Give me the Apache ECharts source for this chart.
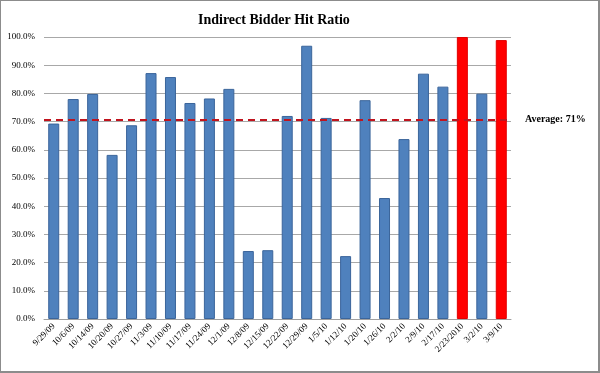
<!DOCTYPE html>
<html>
<head>
<meta charset="utf-8">
<script src="https://cdn.jsdelivr.net/npm/echarts@6/dist/echarts.min.js"></script>
<style>
html,body{margin:0;padding:0;background:#fff;}
#wrap{position:relative;width:600px;height:373px;box-sizing:border-box;border:1px solid #8c8c8c;border-right:2px solid #8c8c8c;border-bottom:2px solid #8c8c8c;}
#chart{position:absolute;left:-1px;top:-1px;width:600px;height:373px;}
</style>
</head>
<body>
<div id="wrap"><div id="chart"></div></div>
<script>
const categories = ['9/29/09','10/6/09','10/14/09','10/20/09','10/27/09','11/3/09','11/10/09','11/17/09','11/24/09','12/1/09','12/8/09','12/15/09','12/22/09','12/29/09','1/5/10','1/12/10','1/20/10','1/26/10','2/2/10','2/9/10','2/17/10','2/23/2010','3/2/10','3/9/10'];
const hitRatio = [69.3,78.0,79.8,58.2,68.7,87.2,85.8,76.6,78.2,81.6,24.1,24.4,72.0,96.9,71.3,22.3,77.6,42.9,63.8,87.0,82.4,100.0,79.9,98.9];
const highlighted = ['2/23/2010','3/9/10'];
const averageValue = 70.7;
const averageLabel = 'Average: 71%';
const yTicks = [0,10,20,30,40,50,60,70,80,90,100];

const serif = '"Liberation Serif","Times New Roman",serif';
const chart = echarts.init(document.getElementById('chart'));
chart.setOption({
  animation:false,
  title:{text:'Indirect Bidder Hit Ratio',left:193,top:8,
    textStyle:{fontFamily:serif,fontSize:14,fontWeight:'bold',color:'#000'}},
  grid:{left:44,right:89,top:37,bottom:54},
  xAxis:{type:'category',data:categories,
    axisLine:{lineStyle:{color:'#a0a0a0'}},
    axisTick:{show:false},
    axisLabel:{rotate:45,interval:0,fontFamily:serif,fontSize:9,color:'#000',margin:6}},
  yAxis:{type:'value',min:yTicks[0],max:yTicks[yTicks.length-1],interval:10,
    axisLine:{show:false},axisTick:{show:false},
    splitLine:{lineStyle:{color:'#a8a8a8',width:1}},
    axisLabel:{formatter:v=>v.toFixed(1)+'%',fontFamily:serif,fontSize:9,color:'#000',margin:9}},
  series:[{
    type:'bar',barWidth:11,
    data:hitRatio.map((v,i)=>{
      const red = highlighted.includes(categories[i]);
      return {value:v,itemStyle:{color:red?'#ff0000':'#4f81bd',borderColor:red?'#e00000':'#3b659b',borderWidth:1}};
    }),
    markLine:{silent:true,symbol:'none',
      lineStyle:{color:'#c0141e',type:[7,5],width:2},
      label:{position:'end',formatter:averageLabel,fontFamily:serif,fontSize:10,fontWeight:'bold',color:'#000',distance:14},
      data:[{yAxis:averageValue}]}
  }]
});
</script>
</body>
</html>
